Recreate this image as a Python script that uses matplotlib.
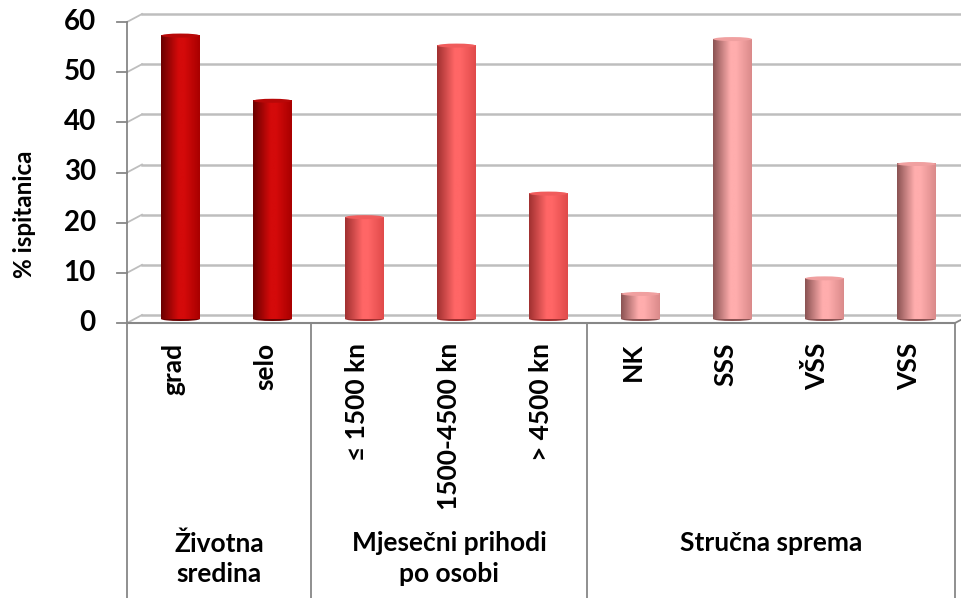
import numpy as np
import matplotlib
matplotlib.use("Agg")
import matplotlib.pyplot as plt
from matplotlib.colors import LinearSegmentedColormap
from matplotlib.patches import Rectangle, Ellipse
from matplotlib.lines import Line2D
from matplotlib.transforms import ScaledTranslation, IdentityTransform

# data
categories = ["grad", "selo", "≤ 1500 kn", "1500-4500 kn", "> 4500 kn", "NK", "SSS", "VŠS", "VSS"]
values = [56.5, 43.5, 20.3, 54.5, 25.0, 5.0, 55.8, 8.1, 30.9]
groups = ["Životna\nsredina", "Mjesečni prihodi\npo osobi", "Stručna sprema"]
group_sizes = [2, 3, 4]
yticks = [0, 10, 20, 30, 40, 50, 60]
ylabel = "% ispitanica"

# cylinder shading per group: left edge, highlight, right edge, top cap
group_colors = [
    ("#6a0000", "#d40a0a", "#a80000", "#b80808"),
    ("#a03030", "#ff6666", "#e04a4a", "#f05c5c"),
    ("#8a5252", "#ffadad", "#da8a8a", "#f0a0a0"),
]

FONT = "Lato"
W, H = 962, 598
fig = plt.figure(figsize=(W / 100, H / 100), dpi=100)

# plot area in pixels (front plane)
left_px, right_px, bottom_px, top_px = 127, 955, 323, 22
ax = fig.add_axes([left_px / W, 1 - bottom_px / H,
                   (right_px - left_px) / W, (bottom_px - top_px) / H])
n = len(categories)
ax.set_xlim(-0.5, n - 0.5)
ax.set_ylim(0, 60)
ax.axis("off")

grid_c = "#BEBEBE"
axis_c = "#878787"
depth_dx, depth_dy = 15, 8          # back wall offset in px
back = ax.transData + ScaledTranslation(depth_dx / 100, depth_dy / 100, fig.dpi_scale_trans)
mid = ax.transData + ScaledTranslation(depth_dx / 200, depth_dy / 200, fig.dpi_scale_trans)

# back-wall gridlines + little diagonals from the front axis
for v in yticks:
    ax.plot([-0.5, n - 0.5 + 0.3], [v, v], color=grid_c, lw=1.8, transform=back, clip_on=False, zorder=1)
    x0, y0 = ax.transData.transform((-0.5, v))
    fig.add_artist(Line2D([x0, x0 + depth_dx], [y0, y0 + depth_dy], color=grid_c, lw=1.3,
                          transform=IdentityTransform()))
    # tick mark
    fig.add_artist(Line2D([x0 - 10, x0], [y0, y0], color=axis_c, lw=1.3, transform=IdentityTransform()))
    ax.text(-0.5, v, str(v), transform=ax.transData + ScaledTranslation(-31 / 100, 0, fig.dpi_scale_trans),
            ha="right", va="center", fontsize=20, fontweight="bold", family=FONT)

# front value axis and category axis
xl, yb = ax.transData.transform((-0.5, 0))
xr, yt = ax.transData.transform((n - 0.5, 60))
fig.add_artist(Line2D([xl, xl], [yb, yt], color=axis_c, lw=1.3, transform=IdentityTransform()))
fig.add_artist(Line2D([xl, xr], [yb, yb], color=axis_c, lw=1.5, transform=IdentityTransform()))
fig.add_artist(Line2D([xr, xr + depth_dx], [yb, yb + depth_dy], color=axis_c, lw=1.3, transform=IdentityTransform()))

# bars as shaded cylinders
bar_w = 0.42
cap_h = 0.8
idx = 0
for g, size in enumerate(group_sizes):
    cl, ch, cr, ctop = group_colors[g]
    cmap = LinearSegmentedColormap.from_list("cyl%d" % g, [(0, cl), (0.45, ch), (0.6, ch), (1, cr)])
    grad = np.linspace(0, 1, 200)[np.newaxis, :]
    for k in range(size):
        x, h = idx, values[idx]
        l, r = x - bar_w / 2, x + bar_w / 2
        im = ax.imshow(grad, extent=[l, r, 0, h], aspect="auto", cmap=cmap,
                       interpolation="bilinear", zorder=3, clip_on=False)
        im.set_transform(mid)
        clip = Rectangle((l, 0), bar_w, h, transform=mid, facecolor="none", edgecolor="none")
        ax.add_patch(clip)
        im.set_clip_path(clip)
        ax.add_patch(Ellipse((x, 0), bar_w, cap_h, transform=mid, facecolor=cl, edgecolor="none",
                             zorder=2.9, clip_on=False))
        ax.add_patch(Ellipse((x, h), bar_w, cap_h, transform=mid, facecolor=ctop, edgecolor="none",
                             zorder=4, clip_on=False))
        idx += 1
ax.set_xlim(-0.5, n - 0.5)
ax.set_ylim(0, 60)

# category labels below the axis
cat_y = 1 - 343 / H
for i, name in enumerate(categories):
    xf = fig.transFigure.inverted().transform(ax.transData.transform((i, 0)))[0]
    fig.text(xf, cat_y, name, rotation=90, ha="center", va="top",
             fontsize=19, fontweight="bold", family=[FONT, "DejaVu Sans"])

# group separators and group labels
start = 0
bounds = [-0.5]
for size in group_sizes:
    start += size
    bounds.append(start - 0.5)
for b in bounds:
    xb, _ = ax.transData.transform((b, 0))
    fig.add_artist(Line2D([xb, xb], [0, yb], color=axis_c, lw=1.3, transform=IdentityTransform()))
for g, name in enumerate(groups):
    xc = (bounds[g] + bounds[g + 1]) / 2
    xf = fig.transFigure.inverted().transform(ax.transData.transform((xc, 0)))[0]
    fig.text(xf, 1 - 531 / H, name, ha="center", va="top", fontsize=19,
             fontweight="bold", family=FONT, linespacing=1.33)

fig.text(24 / W, 1 - 214 / H, ylabel, rotation=90, ha="center", va="center",
         fontsize=17.5, fontweight="bold", family=FONT)

fig.savefig("out.png", dpi=100, facecolor="white")
